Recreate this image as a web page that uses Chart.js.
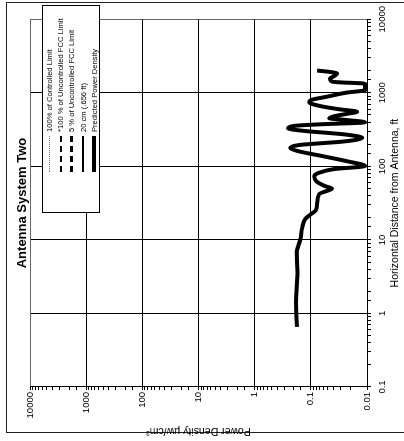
<!DOCTYPE html>
<html>
<head>
<meta charset="utf-8">
<script src="https://cdn.jsdelivr.net/npm/chart.js@4.4.0/dist/chart.umd.min.js"></script>
<style>
  body { margin: 0; width: 404px; height: 441px; overflow: hidden; background: #fff; }
  #page {
    position: absolute; left: 0; top: 0; width: 441px; height: 404px;
    transform-origin: 0 0; transform: translate(0px, 441px) rotate(-90deg);
    font-family: "Liberation Sans", Arial, sans-serif; color: #000;
  }
  #frame {
    position: absolute; left: 8px; top: 6px; width: 431px; height: 500px;
    box-sizing: border-box; border: 1.5px solid #222; border-bottom: none;
  }
  #chart { position: absolute; left: 0; top: 0; }
  #title {
    position: absolute; left: 54px; width: 368px; top: 14px;
    text-align: center; font-weight: bold; font-size: 13px; line-height: 16px;
  }
  #legend {
    position: absolute; left: 228px; top: 42px; width: 208px; height: 58px;
    box-sizing: border-box; border: 1px solid #000; background: #fff; padding-top: 1px;
  }
  .row { position: relative; height: 11.2px; font-size: 7.6px; line-height: 11.2px; }
  .row span.txt { position: absolute; left: 80px; white-space: nowrap; }
  .row span.sym { position: absolute; left: 40px; width: 36px; }
</style>
</head>
<body>
<div id="page">
  <div id="frame"></div>
  <canvas id="chart" width="441" height="404"></canvas>
  <div id="title">Antenna System Two</div>
  <div id="legend"></div>
</div>
<script>
// distance from antenna (ft) and predicted power density (µW/cm²)
const distanceFt = [0.656, 1.45, 3.7, 6.96, 8.15, 10.5, 14.4, 19.1, 22.3, 25.3, 30.5, 41.9, 47.5, 49.7,
  53.8, 63, 73.7, 81.8, 91.8, 101, 118, 138, 162, 178, 195, 218, 244, 272, 303, 328, 355, 372, 397,
  429, 450, 479, 518, 552, 597, 656, 744, 805, 885, 1003, 1086, 1331, 1388, 1419, 1560, 1687, 1824, 1941, 2004];
const powerDensity = [0.177, 0.183, 0.172, 0.179, 0.168, 0.152, 0.143, 0.126, 0.100, 0.0815, 0.0773, 0.0712, 0.0472, 0.0418,
  0.0557, 0.0805, 0.0873, 0.0711, 0.0385, 0.0108, 0.0235, 0.063, 0.175, 0.233, 0.161, 0.0255, 0.0122, 0.0255, 0.131, 0.254, 0.198, 0.0711, 0.0108,
  0.0255, 0.0472, 0.0385, 0.0226, 0.015, 0.0313, 0.0656, 0.107, 0.0948, 0.0513, 0.0235, 0.0108, 0.0108, 0.0313, 0.0418, 0.0454, 0.0385, 0.034, 0.0513, 0.0773];

const legendLabels = ["100% of Controlled Limit", "*100 % of Uncontrolled FCC Limit",
  "5 % of Uncontrolled FCC Limit", "20 cm (.656 ft)", "Predicted Power Density"];
const legendStyles = ["1px dotted #777", "2px dashed #000", "3px dashed #000", "2px solid #000", "4px solid #000"];

const FONT = "'Liberation Sans', Arial, sans-serif";

// legend box
const legendBox = document.getElementById("legend");
legendLabels.forEach(function (label, i) {
    const row = document.createElement("div");
    row.className = "row";
    const sym = document.createElement("span");
    sym.className = "sym";
    const w = parseInt(legendStyles[i]);
    sym.style.borderTop = legendStyles[i];
    sym.style.top = (5.6 - w / 2) + "px";
    const txt = document.createElement("span");
    txt.className = "txt";
    txt.textContent = label;
    row.appendChild(sym);
    row.appendChild(txt);
    legendBox.appendChild(row);
});

function isDecade(v) {
    const l = Math.log10(v);
    return Math.abs(l - Math.round(l)) < 1e-6;
}
function decadeLabel(v) {
    return isDecade(v) ? String(Number(v.toPrecision(6))) : "";
}
function gridColor(c) {
    if (!c.tick || !isDecade(c.tick.value)) return "rgba(0,0,0,0)";
    return Math.round(Math.log10(c.tick.value)) === 4 ? "#666" : "#000";
}

const points = distanceFt.map(function (d, i) { return { x: d, y: powerDensity[i] }; });

new Chart(document.getElementById("chart").getContext("2d"), {
    type: "scatter",
    data: {
        datasets: [{
            label: "Predicted Power Density",
            data: points,
            showLine: true,
            borderColor: "#000",
            borderWidth: 4,
            pointRadius: 0,
            cubicInterpolationMode: "monotone",
            fill: false
        }]
    },
    options: {
        responsive: false,
        animation: false,
        layout: { padding: { left: 4, right: 19, top: 30, bottom: 0 } },
        plugins: { legend: { display: false }, tooltip: { enabled: false } },
        scales: {
            x: {
                type: "logarithmic", min: 0.1, max: 10000,
                afterFit: function (s) { s.height = 37; },
                grid: { color: gridColor, lineWidth: 1, tickLength: 4, tickColor: "#000" },
                border: { color: "#000" },
                ticks: { autoSkip: false, maxRotation: 0, padding: 6, color: "#000",
                    font: { family: FONT, size: 9.5 }, callback: decadeLabel },
                title: { display: true, text: "Horizontal Distance from Antenna, ft", color: "#000",
                    font: { family: FONT, size: 10.5 }, padding: { top: 0, bottom: 3 } }
            },
            y: {
                type: "logarithmic", min: 0.01, max: 10000,
                afterFit: function (s) { s.width = 50; },
                grid: { color: gridColor, lineWidth: 1, tickLength: 3, tickColor: "#000" },
                border: { color: "#000" },
                ticks: { autoSkip: false, padding: 2, color: "#000",
                    font: { family: FONT, size: 9.5 }, callback: decadeLabel },
                title: { display: true, text: "Power Density µw/cm²", color: "#000",
                    font: { family: FONT, size: 10.5 }, padding: { top: 0, bottom: 0 } }
            }
        }
    }
});
</script>
</body>
</html>
